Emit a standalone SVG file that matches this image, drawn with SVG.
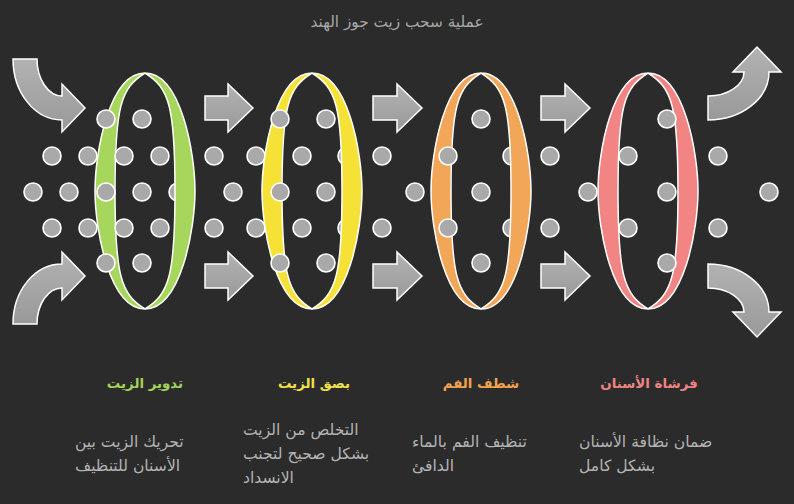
<svg xmlns="http://www.w3.org/2000/svg" xmlns:xlink="http://www.w3.org/1999/xlink" width="794" height="504" viewBox="0 0 794 504">
<defs>
<linearGradient id="ag" x1="0" y1="0" x2="0" y2="1">
<stop offset="0" stop-color="#b2b2b2"/>
<stop offset="1" stop-color="#999999"/>
</linearGradient>
<path id="ringShape" d="M0,73 C36,73 50,153 50,191 C50,229 36,309 0,309 C-36,309 -50,229 -50,191 C-50,153 -36,73 0,73 Z M0,73 C-24,88 -30,106 -30,191 C-30,276 -24,294 0,309 C24,294 30,276 30,191 C30,106 24,88 0,73 Z"/>
<style>
.arrow{fill:url(#ag);stroke:#ffffff;stroke-width:1.5;stroke-linejoin:miter}
.dot{fill:#a9a9a9;stroke:#ffffff;stroke-width:1.6}
.ring{fill-rule:evenodd;stroke:#ffffff;stroke-width:1.5}
.t{font-family:"DejaVu Sans","Liberation Sans",sans-serif}
.title{font-size:15.3px;fill:#a8a8a8;text-anchor:middle}
.head{font-size:13.4px;font-weight:bold;text-anchor:middle}
.desc{font-size:15.6px;fill:#b4b4b4}
</style>
</defs>
<rect width="794" height="504" fill="#2b2b2b"/>
<text class="t title" x="397" y="27">عملية سحب زيت جوز الهند</text>

<g id="connectors">
<path class="arrow" d="M13,59 H37 C37,78.9 48.2,96 62,96 V84 L85,108 L62,132 V120 C34.9,120 13,92.7 13,59 Z"/>
<path class="arrow" d="M13,324 H37 C37,304.1 48.2,288 62,288 V300 L85,276 L62,252 V264 C34.9,264 13,290.3 13,324 Z"/>
<path class="arrow" d="M205,96 H228 V84 L253,108 L228,132 V120 H205 Z"/>
<path class="arrow" d="M205,264 H228 V252 L253,276 L228,300 V288 H205 Z"/>
<path class="arrow" d="M373,96 H397 V84 L422,108 L397,132 V120 H373 Z"/>
<path class="arrow" d="M373,264 H397 V252 L422,276 L397,300 V288 H373 Z"/>
<path class="arrow" d="M541,96 H565 V84 L590,108 L565,132 V120 H541 Z"/>
<path class="arrow" d="M541,264 H565 V252 L590,276 L565,300 V288 H541 Z"/>
<path class="arrow" d="M708,120 V96 C727.9,96 744,85 744,72 H733 L757,47 L781,72 H769 C769,98.5 741.7,120 708,120 Z"/>
<path class="arrow" d="M708,264 V288 C727.9,288 744,299 744,312 H733 L757,337 L781,312 H769 C769,285.5 741.7,264 708,264 Z"/>
</g>

<g id="dots-between">
<circle class="dot" cx="214" cy="156" r="9"/>
<circle class="dot" cx="214" cy="228" r="9"/>
<circle class="dot" cx="233" cy="192" r="9"/>
<circle class="dot" cx="382" cy="156" r="9"/>
<circle class="dot" cx="382" cy="228" r="9"/>
<circle class="dot" cx="415" cy="192" r="9"/>
<circle class="dot" cx="550" cy="156" r="9"/>
<circle class="dot" cx="550" cy="228" r="9"/>
<circle class="dot" cx="718" cy="156" r="9"/>
<circle class="dot" cx="718" cy="228" r="9"/>
<circle class="dot" cx="769" cy="192" r="9"/>
</g>

<g id="node-1">
<circle class="dot" cx="178" cy="192" r="9"/>
<use xlink:href="#ringShape" href="#ringShape" x="145" class="ring" fill="#a6d65c"/>
<circle class="dot" cx="106" cy="119" r="9"/>
<circle class="dot" cx="142" cy="119" r="9"/>
<circle class="dot" cx="52" cy="156" r="9"/>
<circle class="dot" cx="88" cy="156" r="9"/>
<circle class="dot" cx="124" cy="156" r="9"/>
<circle class="dot" cx="160" cy="156" r="9"/>
<circle class="dot" cx="33" cy="192" r="9"/>
<circle class="dot" cx="69" cy="192" r="9"/>
<circle class="dot" cx="106" cy="192" r="9"/>
<circle class="dot" cx="142" cy="192" r="9"/>
<circle class="dot" cx="52" cy="228" r="9"/>
<circle class="dot" cx="88" cy="228" r="9"/>
<circle class="dot" cx="124" cy="228" r="9"/>
<circle class="dot" cx="160" cy="228" r="9"/>
<circle class="dot" cx="106" cy="263" r="9"/>
<circle class="dot" cx="142" cy="263" r="9"/>
<text class="t head" x="145" y="388" fill="#a3d356">تدوير الزيت</text>
<text class="t desc" x="75" y="447">تحريك الزيت بين</text>
<text class="t desc" x="75" y="471">الأسنان للتنظيف</text>
</g>

<g id="node-2">
<circle class="dot" cx="256" cy="156" r="9"/>
<circle class="dot" cx="256" cy="228" r="9"/>
<circle class="dot" cx="347" cy="156" r="9"/>
<circle class="dot" cx="347" cy="228" r="9"/>
<use xlink:href="#ringShape" href="#ringShape" x="312" class="ring" fill="#f6e236"/>
<circle class="dot" cx="280" cy="119" r="9"/>
<circle class="dot" cx="326" cy="119" r="9"/>
<circle class="dot" cx="302" cy="156" r="9"/>
<circle class="dot" cx="280" cy="192" r="9"/>
<circle class="dot" cx="326" cy="192" r="9"/>
<circle class="dot" cx="302" cy="228" r="9"/>
<circle class="dot" cx="280" cy="263" r="9"/>
<circle class="dot" cx="326" cy="263" r="9"/>
<text class="t head" x="314" y="388" fill="#f3e04a">بصق الزيت</text>
<text class="t desc" x="243" y="435">التخلص من الزيت</text>
<text class="t desc" x="243" y="459">بشكل صحيح لتجنب</text>
<text class="t desc" x="243" y="483">الانسداد</text>
</g>

<g id="node-3">
<circle class="dot" cx="512" cy="156" r="9"/>
<circle class="dot" cx="512" cy="228" r="9"/>
<use xlink:href="#ringShape" href="#ringShape" x="481" class="ring" fill="#f2a658"/>
<circle class="dot" cx="481" cy="119" r="9"/>
<circle class="dot" cx="448" cy="156" r="9"/>
<circle class="dot" cx="481" cy="192" r="9"/>
<circle class="dot" cx="448" cy="228" r="9"/>
<circle class="dot" cx="481" cy="263" r="9"/>
<text class="t head" x="481" y="388" fill="#f2a24e">شطف الفم</text>
<text class="t desc" x="412" y="447">تنظيف الفم بالماء</text>
<text class="t desc" x="412" y="471">الدافئ</text>
</g>

<g id="node-4">
<circle class="dot" cx="588" cy="192" r="9"/>
<use xlink:href="#ringShape" href="#ringShape" x="648" class="ring" fill="#f28584"/>
<circle class="dot" cx="667" cy="119" r="9"/>
<circle class="dot" cx="628" cy="156" r="9"/>
<circle class="dot" cx="667" cy="192" r="9"/>
<circle class="dot" cx="628" cy="228" r="9"/>
<circle class="dot" cx="667" cy="263" r="9"/>
<text class="t head" x="649" y="388" fill="#f08482">فرشاة الأسنان</text>
<text class="t desc" x="579" y="447">ضمان نظافة الأسنان</text>
<text class="t desc" x="579" y="471">بشكل كامل</text>
</g>
</svg>
